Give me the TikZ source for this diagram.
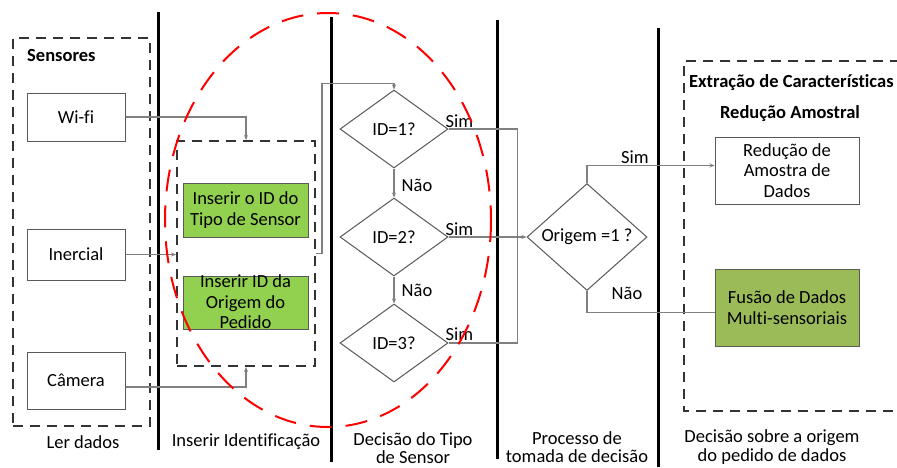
\documentclass[tikz,border=0pt]{standalone}
\usepackage{fontspec}
\setmainfont{Carlito}[Ligatures=CommonOff]
\usetikzlibrary{shapes.geometric,arrows.meta,calc}
\definecolor{boxline}{HTML}{595959}
\definecolor{connline}{HTML}{808080}
\definecolor{dashline}{HTML}{333333}
\definecolor{greenA}{HTML}{92D050}
\definecolor{greenB}{HTML}{9BBB59}
\definecolor{ellred}{HTML}{FF0000}
\newcommand{\dfont}{\fontsize{18.5}{20.5}\selectfont}
\newcommand{\lfont}{\fontsize{18.5}{18.5}\selectfont}
\tikzset{
  txt/.style={inner sep=0pt, align=center, font=\dfont},
  lanelbl/.style={inner sep=0pt, align=center, font=\lfont},
  sensorbox/.style={draw=boxline, line width=1pt, fill=white, inner sep=0pt, align=center, font=\dfont},
  greenbox/.style={draw=boxline, line width=1pt, fill=greenA, inner sep=0pt, align=center, font=\dfont},
  dashbox/.style={draw=dashline, line width=2pt, dash pattern=on 10pt off 7pt, inner sep=0pt},
  decbox/.style={diamond, draw=boxline, line width=1pt, fill=white, inner sep=0pt, font=\dfont},
  conn/.style={draw=connline, line width=1.2pt},
  arr/.style={-{Stealth[length=5pt,width=4pt]}},
  lane/.style={line width=3pt, black},
  redell/.style={draw=ellred, line width=2pt, dash pattern=on 22pt off 14pt},
}
\begin{document}
\begin{tikzpicture}[x=1pt,y=-1pt]
\useasboundingbox[fill=white] (0,0) rectangle (897,467);

% lanes
\draw[lane] (158,12) coordinate (l1a) -- (158,450) coordinate (l1b);
\draw[lane] (331,17) coordinate (l2a) -- (331,462) coordinate (l2b);
\draw[lane] (497,20) coordinate (l3a) -- (497,459) coordinate (l3b);
\draw[lane] (658,28) coordinate (l4a) -- (658,467) coordinate (l4b);

% dashed group boxes
\node[dashbox, minimum width=137pt, minimum height=388pt] (sensbox) at (81.5,232) {};
\node[txt, anchor=west, font=\dfont\bfseries] (senslbl) at (27,55) {Sensores};
\node[dashbox, minimum width=138pt, minimum height=225pt] (insbox) at (246,253.5) {};
\draw[dashline, line width=2pt, dash pattern=on 10pt off 7pt] (900,61) -- (684,61) -- (684,411) -- (900,411);

% sensors
\node[sensorbox, minimum width=98pt, minimum height=48pt] (wifi) at (76,117) {Wi-fi};
\node[sensorbox, minimum width=98pt, minimum height=51pt] (inercial) at (76,254.5) {Inercial};
\node[sensorbox, minimum width=98pt, minimum height=57pt] (camera) at (76,380.5) {Câmera};

% green boxes
\node[greenbox, minimum width=125pt, minimum height=54pt] (g1) at (245.5,210) {Inserir o ID do\\Tipo de Sensor};
\node[greenbox, minimum width=125pt, minimum height=53pt] (g2) at (245.5,302.5) {};
\node[txt] (g2t) at (245.5,302) {Inserir ID da\\Origem do\\Pedido};

% diamonds
\node[decbox, minimum width=108pt, minimum height=78pt] (d1) at (394,129) {ID=1?};
\node[decbox, minimum width=108pt, minimum height=78pt] (d2) at (394,237) {ID=2?};
\node[decbox, minimum width=108pt, minimum height=78pt] (d3) at (394,343) {ID=3?};
\node[decbox, minimum width=120pt, minimum height=87pt] (orig) at (587,237) {Origem =1 ?};

% right boxes
\node[sensorbox, minimum width=144pt, minimum height=67pt] (red) at (787,170.5) {Redução de\\Amostra de\\Dados};
\node[greenbox, fill=greenB, minimum width=144pt, minimum height=77pt] (fus) at (787,307.5) {Fusão de Dados\\Multi-sensoriais};
\node[txt, anchor=west, font=\dfont\bfseries] (extr) at (689,83) {Extração de Características};
\node[txt, font=\dfont\bfseries] (redam) at (790,114) {Redução Amostral};

% connectors
\draw[conn, arr] (wifi.east) -| (insbox.north);
\draw[conn, arr] (inercial.east) -- (inercial.east -| insbox.west);
\draw[conn, arr] ($(camera.east)+(0,6.5)$) -| (insbox.south);
\draw[conn, arr] (insbox.east) -- ++(6,0) |- ($(d1.north)+(0,-6)$) -- (d1.north);
\draw[conn, arr] (d1.south) -- (d2.north);
\draw[conn, arr] (d2.south) -- (d3.north);
\draw[conn] (d1.east) -- ++(69,0) |- (d3.east);
\draw[conn, arr] (d2.east) -- (orig.west);
\draw[conn, arr] (orig.north) |- ([yshift=5pt]red.west);
\draw[conn] (orig.south) |- ([yshift=-5pt]fus.west);

% branch labels
\node[txt] (s1) at (459.5,121) {Sim};
\node[txt] (s2) at (459.5,229) {Sim};
\node[txt] (s3) at (459.5,334) {Sim};
\node[txt] (n1) at (417,185) {Não};
\node[txt] (n2) at (417,290) {Não};
\node[txt] (s4) at (635,157) {Sim};
\node[txt] (n3) at (627,293) {Não};

% lane labels
\node[txt] (lb1) at (83,442) {Ler dados};
\node[txt] (lb2) at (246,442) {Inserir Identificação};
\node[lanelbl] (lb3) at (413,448) {Decisão do Tipo\\de Sensor};
\node[lanelbl] (lb4) at (577,447) {Processo de\\tomada de decisão};
\node[lanelbl] (lb5) at (772,447) {Decisão sobre a origem\\do pedido de dados};

% red ellipse
\draw[redell] (328,220) ellipse [x radius=163, y radius=207];
\end{tikzpicture}
\end{document}
